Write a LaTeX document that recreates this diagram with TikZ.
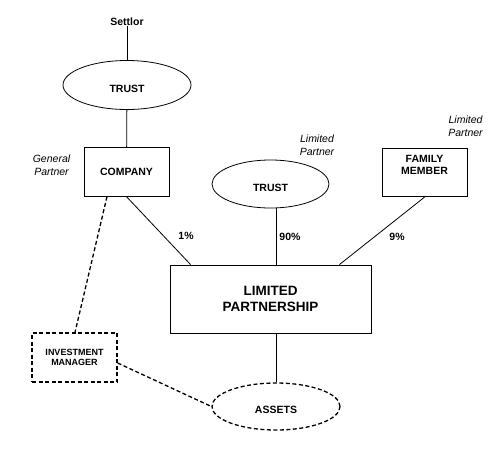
\documentclass[tikz,border=0pt]{standalone}
\usepackage{fontspec}
\setmainfont{Liberation Sans}
\usetikzlibrary{shapes.geometric}
\tikzset{
    lbl/.style={font=\fontsize{10.5}{12}\selectfont\bfseries, inner sep=0pt},
    role/.style={font=\fontsize{10.5}{12.5}\selectfont\itshape, align=center, inner sep=0pt},
    boite/.style={draw, rectangle, minimum width=85pt, minimum height=48.5pt, inner sep=0pt},
    bulle/.style={draw, ellipse, inner sep=0pt, text height=14pt, text depth=0pt},
    pointille/.style={line width=1.3pt, dash pattern=on 4pt off 2.5pt}
}
\begin{document}
\begin{tikzpicture}[x=1pt, y=-1pt, line width=0.8pt]
    % Cadre de la figure
    \useasboundingbox (0,0) rectangle (502,450);
    % Noeuds du haut
    \node[lbl] (settlor) at (127,22) {Settlor};
    \node[bulle, lbl, minimum width=128pt, minimum height=49pt] (trusttop) at (127,85) {TRUST};
    \node[boite, lbl] (company) at (126.5,172) {COMPANY};
    \node[role] (gp) at (51.5,165) {General\\Partner};
    \node[bulle, lbl, minimum width=117pt, minimum height=48pt] (trustlp) at (270.5,184) {TRUST};
    \node[role] (lptrust) at (317,145) {Limited\\Partner};
    \node[boite] (family) at (424.5,172.5) {};
    \node[lbl, align=center] (familytxt) at (424.5,164.5) {FAMILY\\MEMBER};
    \node[role] (lpfamily) at (465.5,126) {Limited\\Partner};
    % Société en commandite
    \node[draw, rectangle, minimum width=201pt, minimum height=68pt, align=center,
          font=\fontsize{13.5}{16}\selectfont\bfseries] (lp) at (270.5,299) {LIMITED\\PARTNERSHIP};
    % Gestion des actifs (pointillés)
    \node[draw, pointille, rectangle, minimum width=85pt, minimum height=49pt, align=center,
          font=\fontsize{9}{10.5}\selectfont\bfseries] (invest) at (74.5,357.5) {INVESTMENT\\MANAGER};
    \node[bulle, pointille, lbl, minimum width=128pt, minimum height=47pt] (assets) at (276,406.5) {ASSETS};
    % Liaisons
    \draw (settlor) -- (trusttop);
    \draw (trusttop) -- (company);
    \draw (company.south) -- ([xshift=21pt]lp.north west);
    \draw (trustlp.south -| assets) -- (lp.north -| assets);
    \draw (family.south) -- ([xshift=-32pt]lp.north east);
    \draw (lp.south -| assets) -- (assets.north);
    \draw[pointille] ([xshift=-19.5pt]company.south) -- ([xshift=0.5pt]invest.north);
    \draw[pointille] ([yshift=-5.5pt]invest.east) -- (assets.west);
    % Parts
    \node[lbl] (p1) at (186,236) {1\%};
    \node[lbl] (p90) at (290,237) {90\%};
    \node[lbl] (p9) at (397,237) {9\%};
\end{tikzpicture}
\end{document}
